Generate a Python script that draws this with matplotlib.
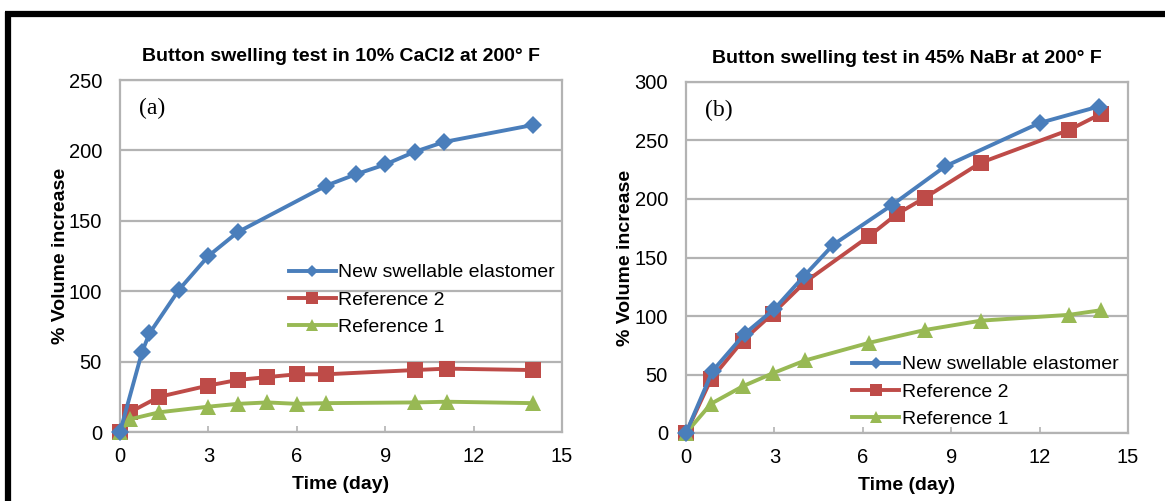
import matplotlib
matplotlib.use("Agg")
import matplotlib.pyplot as plt
from matplotlib.lines import Line2D

plt.rcParams['font.family'] = ['Liberation Sans', 'DejaVu Sans']

# ---- data ----
series_names = ["New swellable elastomer", "Reference 2", "Reference 1"]
x_ticks = [0, 3, 6, 9, 12, 15]

a_title = "Button swelling test in 10% CaCl2 at 200° F"
a_yticks = [0, 50, 100, 150, 200, 250]
a_new_x = [0, 0.75, 1, 2, 3, 4, 7, 8, 9, 10, 11, 14]
a_new_y = [0, 57, 70, 101, 125, 142, 175, 183, 190, 199, 206, 218]
a_ref_x = [0, 0.33, 1.33, 3, 4, 5, 6, 7, 10, 11.1, 14]
a_ref2_y = [0, 14, 25, 33, 37, 39, 41, 41, 44, 45, 44]
a_ref1_y = [0, 9, 14, 18, 20, 21, 20, 20.5, 21, 21.5, 20.5]

b_title = "Button swelling test in 45% NaBr at 200° F"
b_yticks = [0, 50, 100, 150, 200, 250, 300]
b_new_x = [0, 0.9, 2, 3, 4, 5, 7, 8.8, 12, 14]
b_new_y = [0, 53, 85, 106, 134, 161, 195, 228, 265, 279]
b_ref2_x = [0, 0.85, 1.93, 2.94, 4.04, 6.2, 7.15, 8.1, 10, 13, 14.1]
b_ref2_y = [0, 46, 79, 102, 129, 168, 187, 201, 231, 259, 273]
b_ref1_x = [0, 0.85, 1.93, 2.94, 4.04, 6.2, 8.1, 10, 13, 14.1]
b_ref1_y = [0, 25, 40, 51, 62, 77, 88, 96, 101, 105]

BLUE = "#4A7EBB"
RED = "#BE4B48"
GREEN = "#98B954"
GRID = "#B3B3B3"

W, H = 1165, 501
fig = plt.figure(figsize=(W / 100, H / 100), dpi=100)


def px_rect(l, t, r, b):
    return [l / W, 1 - b / H, (r - l) / W, (b - t) / H]


def make_panel(rect, title, yticks, series, letter, leg_anchor):
    ax = fig.add_axes(rect)
    ax.set_xlim(0, 15)
    ax.set_ylim(yticks[0], yticks[-1])
    ax.set_xticks(x_ticks)
    ax.set_yticks(yticks)
    ax.grid(axis='y', color=GRID, linewidth=1.6)
    ax.set_axisbelow(True)
    for s in ax.spines.values():
        s.set_color(GRID)
        s.set_linewidth(1.6)
    ax.tick_params(axis='x', direction='in', length=4, width=1.2, color=GRID,
                   labelsize=14.5, pad=11)
    ax.tick_params(axis='y', length=0, labelsize=14.5, pad=13)
    styles = [dict(color=BLUE, marker='D', markersize=9),
              dict(color=RED, marker='s', markersize=11.5),
              dict(color=GREEN, marker='^', markersize=11.5)]
    handles = []
    for (xs, ys), st, name in zip(series, styles, series_names):
        ln, = ax.plot(xs, ys, linewidth=2.8, clip_on=False, label=name,
                      markeredgewidth=0, **st)
        handles.append(ln)
    handles[0].set_zorder(3.5)
    leg_handles = [Line2D([0], [0], color=BLUE, lw=2.8, marker='D', markersize=6, markeredgewidth=0),
                   Line2D([0], [0], color=RED, lw=2.8, marker='s', markersize=8, markeredgewidth=0),
                   Line2D([0], [0], color=GREEN, lw=2.8, marker='^', markersize=8, markeredgewidth=0)]
    ax.legend(leg_handles, series_names, loc='upper left', bbox_to_anchor=leg_anchor,
              frameon=False, fontsize=14, handlelength=2.4, handletextpad=0.15,
              labelspacing=0.5, borderpad=0, borderaxespad=0)
    ax.set_title(title, fontsize=14, fontweight='bold', pad=14)
    ax.set_xlabel("Time (day)", fontsize=14, fontweight='bold', labelpad=7)
    ax.set_ylabel("% Volume increase", fontsize=14, fontweight='bold', labelpad=0)
    ax.text(0.042, 0.92, letter, transform=ax.transAxes, fontsize=17,
            family=['Liberation Serif', 'DejaVu Serif'], va='center', ha='left')
    return ax


ax1 = make_panel(px_rect(120, 80, 562, 432), a_title, a_yticks,
                 [(a_new_x, a_new_y), (a_ref_x, a_ref2_y), (a_ref_x, a_ref1_y)],
                 "(a)", (0.382, 0.478))
ax2 = make_panel(px_rect(686, 82, 1128, 433), b_title, b_yticks,
                 [(b_new_x, b_new_y), (b_ref2_x, b_ref2_y), (b_ref1_x, b_ref1_y)],
                 "(b)", (0.376, 0.220))

# black frame lines (top and left)
fig.add_artist(Line2D([5 / W, 1], [1 - 14 / H, 1 - 14 / H], color='black', lw=4.5,
                      transform=fig.transFigure, solid_capstyle='butt'))
fig.add_artist(Line2D([8 / W, 8 / W], [1 - 11.5 / H, 0], color='black', lw=4.5,
                      transform=fig.transFigure, solid_capstyle='butt'))

fig.savefig("out.png", dpi=100)
